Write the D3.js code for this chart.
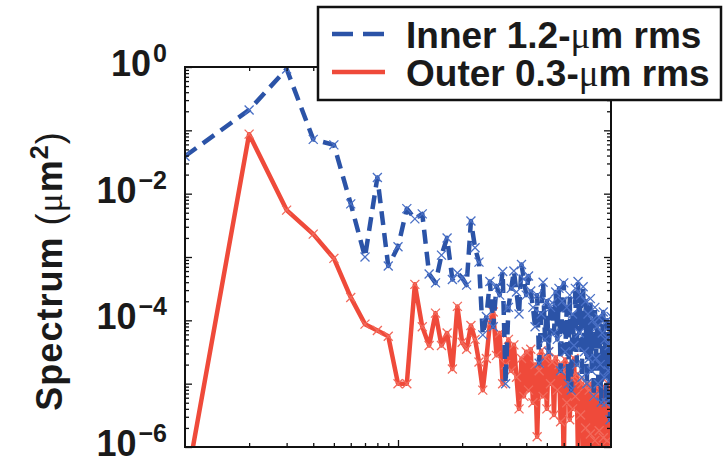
<!DOCTYPE html>
<html>
<head>
<meta charset="utf-8">
<script src="https://cdn.jsdelivr.net/npm/d3@7"></script>
<style>
  body { margin: 0; background: #fff; }
  svg { display: block; }
  text { font-family: "Liberation Sans", Arial, Helvetica, sans-serif; fill: #1a1a1a; }
</style>
</head>
<body>
<svg id="chart" width="724" height="459"></svg>
<script>
// Mode number of each spectral component
const modeNumbers = [
  1, 2, 3, 4, 5, 6, 7, 8, 9, 10,
  11, 12, 13, 14, 15, 16, 17, 18, 19, 20,
  21, 22, 23, 24, 25, 26, 27, 28, 29, 30,
  31, 32, 33, 34, 35, 36, 37, 38, 39, 40,
  41, 42, 43, 44, 45, 46, 47, 48, 49, 50,
  51, 52, 53, 54, 55, 56, 57, 58, 59, 60,
  61, 62, 63, 64, 65, 66, 67, 68, 69, 70,
  71, 72, 73, 74, 75, 76, 77, 78, 79, 80,
  81, 82, 83, 84, 85, 86, 87, 88, 89, 90,
  91, 92, 93, 94, 95, 96, 97, 98, 99, 100
];

// Inner surface, 1.2-um rms (um^2)
const innerSpectrum = [
  3.9e-2, 2.1e-1, 9.3e-1, 7.2e-2, 5.9e-2, 6.9e-3, 1.0e-3, 1.8e-2, 7.2e-4, 1.45e-3,
  5.8e-3, 4.0e-3, 4.8e-3, 5.4e-4, 3.9e-4, 1.07e-3, 2.0e-3, 4.4e-4, 5.6e-4, 4.7e-4,
  3.6e-4, 3.7e-3, 1.4e-3, 8.3e-4, 5.9e-5, 1.15e-4, 4.1e-4, 7.9e-5, 3.5e-4, 2.5e-4,
  5.9e-4, 1.0e-5, 1.6e-4, 3.2e-4, 6.0e-4, 2.8e-4, 1.26e-4, 7.6e-4, 4.5e-4, 2.5e-4,
  5.0e-4, 2.9e-4, 1.6e-4, 7.9e-5, 2.5e-4, 2.1e-5, 1.26e-4, 4.0e-4, 5.0e-5, 2.0e-4,
  3.2e-5, 1.6e-4, 1.9e-4, 6.3e-5, 2.8e-4, 5.0e-5, 3.2e-4, 1.6e-5, 2.0e-4, 3.9e-4,
  3.2e-5, 1.6e-4, 1.0e-5, 2.5e-4, 7.9e-6, 1.26e-4, 4.0e-5, 3.2e-4, 2.0e-5, 4.1e-4,
  6.3e-5, 2.5e-4, 1.26e-5, 3.4e-4, 3.2e-5, 2.0e-4, 1.0e-5, 1.26e-4, 2.5e-5, 2.2e-4,
  1.6e-5, 1.0e-4, 6.3e-6, 1.6e-4, 2.5e-5, 7.9e-5, 1.0e-5, 1.1e-4, 2.0e-5, 5.1e-6,
  6.3e-5, 1.35e-4, 1.26e-5, 5.0e-5, 5.0e-6, 1.0e-4, 1.6e-5, 4.0e-5, 2.7e-6, 1.15e-4
];

// Outer surface, 0.3-um rms (um^2)
const outerSpectrum = [
  2.0e-7, 8.7e-2, 5.5e-3, 2.3e-3, 9.5e-4, 2.3e-4, 8.7e-5, 6.9e-5, 5.6e-5, 1.0e-5,
  1.0e-5, 3.7e-4, 7.9e-5, 4.0e-5, 1.3e-4, 4.0e-5, 6.3e-5, 1.7e-5, 1.66e-4, 4.5e-5,
  3.5e-5, 8.3e-5, 5.0e-5, 2.2e-5, 7.9e-6, 2.5e-5, 8.9e-5, 1.35e-4, 2.8e-5, 6.3e-5,
  1.0e-5, 2.0e-5, 5.0e-5, 1.6e-5, 4.1e-5, 1.26e-5, 4.0e-6, 2.5e-5, 6.3e-6, 3.2e-5,
  7.9e-6, 3.5e-5, 5.0e-6, 2.0e-5, 1.45e-6, 1.6e-5, 3.3e-5, 6.3e-6, 2.5e-5, 4.0e-6,
  3.2e-5, 1.0e-5, 2.2e-5, 3.2e-6, 2.6e-5, 7.9e-6, 2.0e-5, 2.5e-6, 1.6e-5, 5.0e-7,
  2.4e-5, 5.0e-6, 1.8e-5, 2.7e-6, 1.26e-5, 4.0e-6, 2.5e-5, 6.3e-6, 1.4e-5, 6.3e-7,
  1.1e-5, 3.2e-6, 1.0e-5, 7.9e-7, 8.9e-6, 2.0e-6, 1.0e-5, 5.0e-7, 7.9e-6, 1.6e-6,
  1.0e-5, 4.0e-7, 6.3e-6, 1.26e-6, 8.9e-6, 3.2e-7, 7.1e-6, 1.8e-6, 1.0e-5, 2.5e-7,
  7.9e-6, 1.4e-6, 8.9e-6, 4.0e-7, 6.3e-6, 1.26e-6, 1.0e-5, 3.2e-7, 7.9e-6, 1.1e-6
];

// Decades that carry a label on the spectrum axis
const yLabelExponents = [0, -2, -4, -6];

const legendEntries = [
  { prefix: "Inner 1.2-", suffix: "m rms", color: "#2b53a7", dash: "21,10" },
  { prefix: "Outer 0.3-", suffix: "m rms", color: "#ef4a3a", dash: null }
];

const svg = d3.select("#chart");
const plot = { left: 185, right: 611, top: 67, bottom: 447 };

const x = d3.scaleLog().domain([1, 100]).range([plot.left, plot.right]);
const y = d3.scaleLog().domain([1e-6, 1]).range([plot.bottom, plot.top]);

// Tick positions: majors on decades, minors at 2..9 within each decade
const xMajor = [10];
const xMinor = [];
for (const d of [1, 10]) for (let k = 2; k <= 9; k++) xMinor.push(k * d);
const yMajor = [];
const yMinor = [];
for (let e = -6; e <= 0; e++) {
  yMajor.push(Math.pow(10, e));
  if (e < 0) for (let k = 2; k <= 9; k++) yMinor.push(k * Math.pow(10, e));
}

svg.append("rect").attr("width", 724).attr("height", 459).attr("fill", "#fff");

// Data, clipped to the axes box
svg.append("clipPath").attr("id", "plotClip")
  .append("rect")
  .attr("x", plot.left).attr("y", plot.top)
  .attr("width", plot.right - plot.left).attr("height", plot.bottom - plot.top);

const dataLayer = svg.append("g").attr("clip-path", "url(#plotClip)");

const line = d3.line().x(d => x(d.n)).y(d => y(d.v));
const cross = "M-4.5,-4.5L4.5,4.5M-4.5,4.5L4.5,-4.5";

function drawSeries(values, color, markerColor, dash) {
  const pts = modeNumbers.map((n, i) => ({ n, v: values[i] }));
  dataLayer.append("path")
    .datum(pts)
    .attr("d", line)
    .attr("fill", "none")
    .attr("stroke", color)
    .attr("stroke-width", 4.5)
    .attr("stroke-linejoin", "round")
    .attr("stroke-dasharray", dash);
  dataLayer.append("g").selectAll("path")
    .data(pts)
    .join("path")
    .attr("transform", d => `translate(${x(d.n)},${y(d.v)})`)
    .attr("d", cross)
    .attr("fill", "none")
    .attr("stroke", markerColor)
    .attr("stroke-width", 1.3);
}

drawSeries(outerSpectrum, "#ef4a3a", "#f26a5c", null);
drawSeries(innerSpectrum, "#2b53a7", "#4a70c6", "14,8");

// Axes box with inward ticks on all four sides
function styleTicks(g) {
  g.select(".domain").remove();
  g.selectAll("line").attr("stroke", "#111").attr("stroke-width", 1.3);
  g.selectAll("text").remove();
}
const tickSets = [
  { axis: d3.axisBottom, scale: x, vals: xMinor, len: 4, tr: `translate(0,${plot.bottom})` },
  { axis: d3.axisBottom, scale: x, vals: xMajor, len: 7, tr: `translate(0,${plot.bottom})` },
  { axis: d3.axisTop, scale: x, vals: xMinor, len: 4, tr: `translate(0,${plot.top})` },
  { axis: d3.axisTop, scale: x, vals: xMajor, len: 7, tr: `translate(0,${plot.top})` },
  { axis: d3.axisLeft, scale: y, vals: yMinor, len: 4, tr: `translate(${plot.left},0)` },
  { axis: d3.axisLeft, scale: y, vals: yMajor, len: 7, tr: `translate(${plot.left},0)` },
  { axis: d3.axisRight, scale: y, vals: yMinor, len: 4, tr: `translate(${plot.right},0)` },
  { axis: d3.axisRight, scale: y, vals: yMajor, len: 7, tr: `translate(${plot.right},0)` }
];
for (const t of tickSets) {
  svg.append("g").attr("transform", t.tr)
    .call(t.axis(t.scale).tickValues(t.vals).tickSize(-t.len).tickFormat(""))
    .call(styleTicks);
}

svg.append("rect")
  .attr("x", plot.left).attr("y", plot.top)
  .attr("width", plot.right - plot.left).attr("height", plot.bottom - plot.top)
  .attr("fill", "none").attr("stroke", "#111").attr("stroke-width", 2);

// Spectrum axis labels: 10^n
const yLabels = svg.append("g");
for (const e of yLabelExponents) {
  const t = yLabels.append("text")
    .attr("x", 167).attr("y", y(Math.pow(10, e)) + 9)
    .attr("text-anchor", "end")
    .attr("font-weight", "bold")
    .attr("font-size", 36);
  t.append("tspan").text("10");
  t.append("tspan").attr("dy", -14).attr("dx", 2).attr("font-size", 25)
    .text(e === 0 ? "0" : "\u2212" + Math.abs(e));
}

// Axis title
const title = svg.append("text")
  .attr("transform", "translate(62,271) rotate(-90)")
  .attr("text-anchor", "middle")
  .attr("font-size", 36)
  .attr("letter-spacing", 1)
  .attr("font-weight", "bold");
title.append("tspan").text("Spectrum ");
title.append("tspan").attr("font-weight", "normal").text("(");
title.append("tspan").attr("font-weight", "normal")
  .attr("font-family", "'Liberation Serif', 'DejaVu Serif', serif").text("\u03bc");
title.append("tspan").text("m");
title.append("tspan").attr("dy", -14).attr("font-size", 25).text("2");
title.append("tspan").attr("dy", 14).attr("font-weight", "normal").text(")");

// Legend
const legend = svg.append("g");
legend.append("rect")
  .attr("x", 318).attr("y", 7).attr("width", 403).attr("height", 93)
  .attr("fill", "#fff").attr("stroke", "#111").attr("stroke-width", 2.5);
legendEntries.forEach((d, i) => {
  const ly = 34 + i * 38;
  legend.append("line")
    .attr("x1", 332).attr("x2", 385).attr("y1", ly).attr("y2", ly)
    .attr("stroke", d.color).attr("stroke-width", 4.5)
    .attr("stroke-dasharray", d.dash);
  const t = legend.append("text")
    .attr("x", 406).attr("y", ly + 14)
    .attr("font-size", 37).attr("font-weight", "bold");
  t.append("tspan").text(d.prefix);
  t.append("tspan").attr("font-weight", "normal")
    .attr("font-family", "'Liberation Serif', 'DejaVu Serif', serif").text("\u03bc");
  t.append("tspan").text(d.suffix);
});
</script>
</body>
</html>
